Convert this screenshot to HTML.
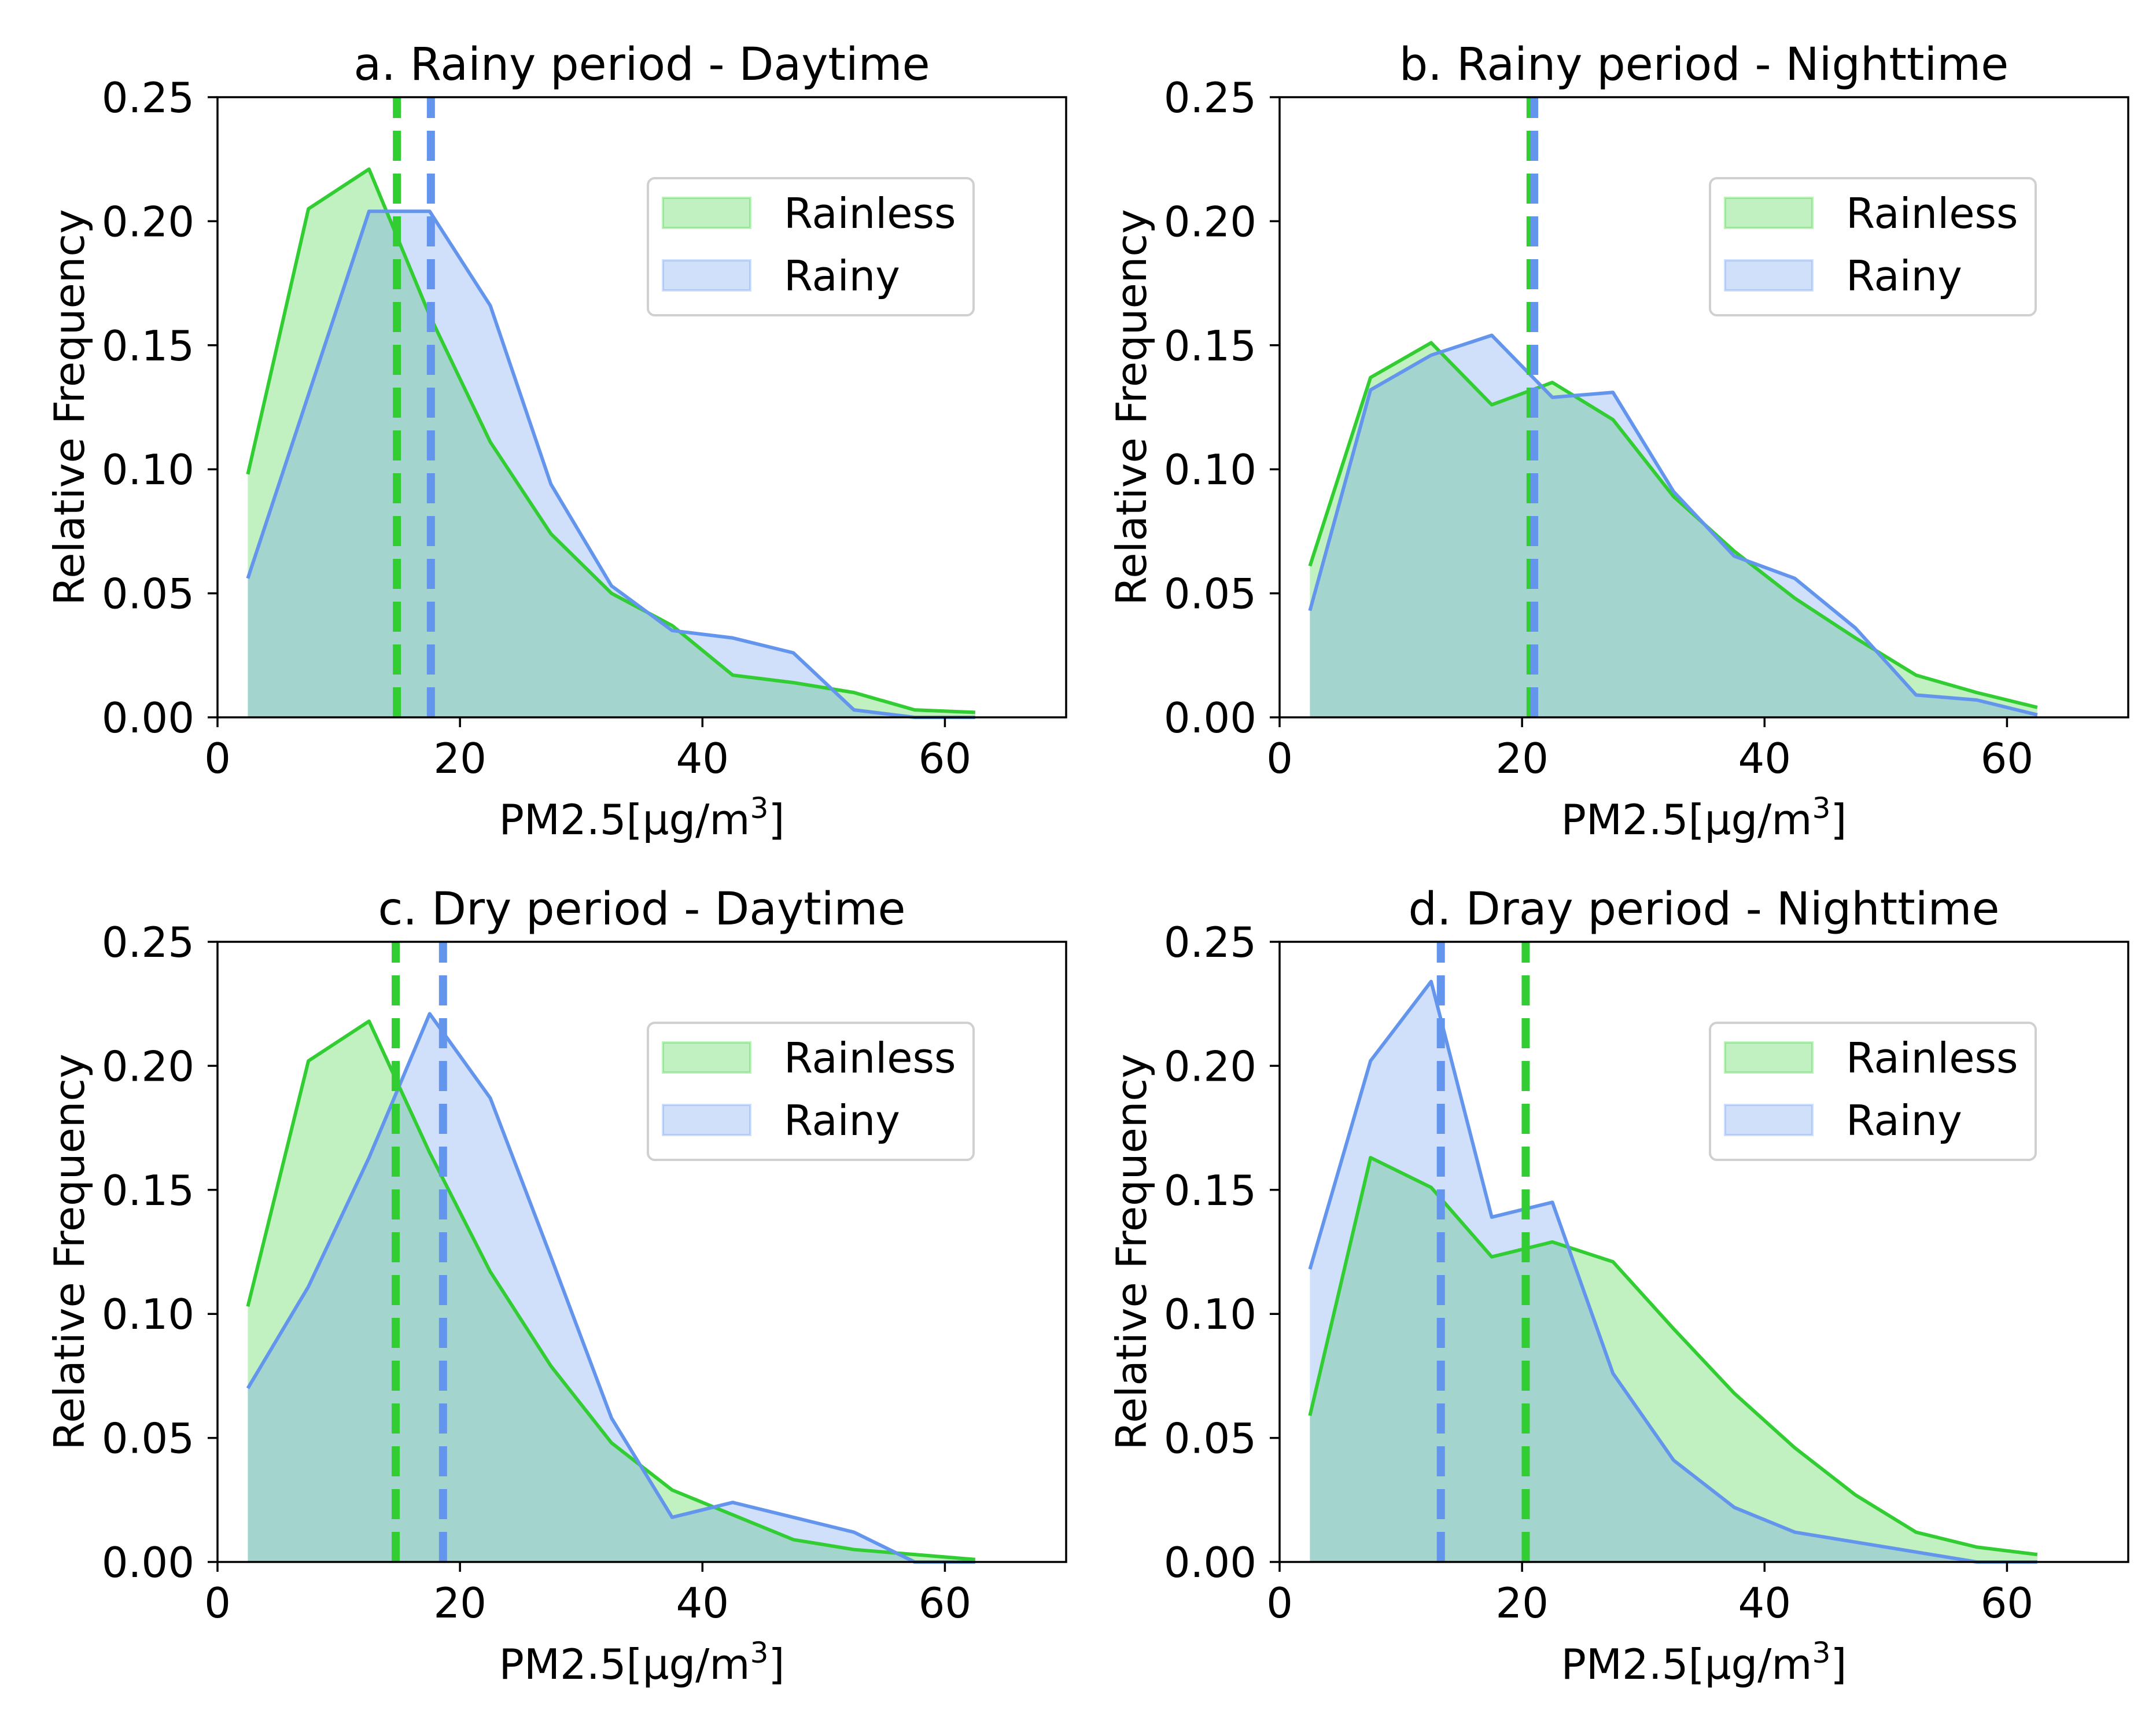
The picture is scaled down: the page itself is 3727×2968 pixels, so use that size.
<!DOCTYPE html>
<html><head><meta charset="utf-8"><style>
html,body{margin:0;padding:0;background:#fff;}
svg{display:block;font-family:"DejaVu Sans","Liberation Sans",sans-serif;}
</style></head><body>
<svg id="fig" width="3727" height="2968" viewBox="0 0 3727 2968" xmlns="http://www.w3.org/2000/svg"></svg>
<script>
const bins = [2.5,7.5,12.5,17.5,22.5,27.5,32.5,37.5,42.5,47.5,52.5,57.5,62.5];
const titles = ["a. Rainy period - Daytime","b. Rainy period - Nighttime","c. Dry period - Daytime","d. Dray period - Nighttime"];
const rainlessA = [0.098,0.205,0.221,0.162,0.111,0.074,0.050,0.037,0.017,0.014,0.010,0.003,0.002];
const rainyA    = [0.056,0.130,0.204,0.204,0.166,0.094,0.053,0.035,0.032,0.026,0.003,0.0,0.0];
const rainlessB = [0.061,0.137,0.151,0.126,0.135,0.120,0.089,0.067,0.048,0.032,0.017,0.010,0.004];
const rainyB    = [0.043,0.132,0.146,0.154,0.129,0.131,0.091,0.065,0.056,0.036,0.009,0.007,0.001];
const rainlessC = [0.103,0.202,0.218,0.165,0.117,0.079,0.048,0.029,0.019,0.009,0.005,0.003,0.001];
const rainyC    = [0.070,0.111,0.163,0.221,0.187,0.123,0.058,0.018,0.024,0.018,0.012,0.0,0.0];
const rainlessD = [0.059,0.163,0.151,0.123,0.129,0.121,0.094,0.068,0.046,0.027,0.012,0.006,0.003];
const rainyD    = [0.118,0.202,0.234,0.139,0.145,0.076,0.041,0.022,0.012,0.008,0.004,0.0,0.0];
const meanRainless = [14.8,20.7,14.7,20.3];
const meanRainy    = [17.6,21.0,18.6,13.3];
const xTicks = [0,20,40,60];
const yTicks = [0,0.05,0.10,0.15,0.20,0.25];
const yTickLabels = ["0.00","0.05","0.10","0.15","0.20","0.25"];

const rainlessAll = [rainlessA,rainlessB,rainlessC,rainlessD];
const rainyAll = [rainyA,rainyB,rainyC,rainyD];
const NS = "http://www.w3.org/2000/svg";
const fig = document.getElementById('fig');
const G = '#32cd32', B = '#6495ed';
function mk(tag, attrs, parent){const e=document.createElementNS(NS,tag);for(const k in attrs)e.setAttribute(k,attrs[k]);(parent||fig).appendChild(e);return e;}
const colX=[376,2212], rowY=[168,1628], W=1467, H=1072, XMAX=70, YMAX=0.25;
for(let p=0;p<4;p++){
  const x0=colX[p%2], y0=rowY[Math.floor(p/2)];
  const sx=v=>x0+v/XMAX*W, sy=v=>y0+H-v/YMAX*H;
  const g=mk('g',{});
  
  
  const series=[[rainlessAll[p],G,'rainless'],[rainyAll[p],B,'rainy']];
  series.forEach(([vals,col,nm])=>{
    let d='M'+sx(bins[0])+','+sy(0);
    vals.forEach((v,i)=>{d+=' L'+sx(bins[i])+','+sy(v);});
    d+=' L'+sx(bins[bins.length-1])+','+sy(0)+' Z';
    const a=mk('path',{d:d,fill:col,'fill-opacity':0.3,stroke:'none'},g);
    
    
  });
  series.forEach(([vals,col,nm])=>{
    const pts=vals.map((v,i)=>sx(bins[i])+','+sy(v)).join(' ');
    const l=mk('polyline',{points:pts,fill:'none',stroke:col,'stroke-width':6,'stroke-linejoin':'round'},g);
    
    
  });
  [[meanRainless[p],G,'rainless'],[meanRainy[p],B,'rainy']].forEach(([m,col,nm])=>{
    const l=mk('line',{x1:sx(m),x2:sx(m),y1:sy(0),y2:sy(YMAX),stroke:col,'stroke-width':14,'stroke-dasharray':'52 22'},g);
    
    
  });
  const fr=mk('rect',{x:x0,y:y0,width:W,height:H,fill:'none',stroke:'#000','stroke-width':3.5},g);
  
  
  xTicks.forEach(t=>{
    mk('line',{x1:sx(t),x2:sx(t),y1:y0+H,y2:y0+H+17,stroke:'#000','stroke-width':3.5},g);
    const tx=mk('text',{x:sx(t),y:y0+H+96,'font-size':72,'text-anchor':'middle'},g);
    tx.textContent=t;
    
    
  });
  yTicks.forEach((t,i)=>{
    mk('line',{x1:x0-17,x2:x0,y1:sy(t),y2:sy(t),stroke:'#000','stroke-width':3.5},g);
    const tx=mk('text',{x:x0-40,y:sy(t)+26,'font-size':72,'text-anchor':'end'},g);
    tx.textContent=yTickLabels[i];
    
    
  });
  const ti=mk('text',{x:x0+W/2,y:y0-30,'font-size':78,'text-anchor':'middle'},g);
  ti.textContent=titles[p];
  
  
  const xl=mk('text',{x:x0+W/2,y:y0+H+202,'font-size':72,'text-anchor':'middle'},g);
  xl.innerHTML='PM2.5[μg/m<tspan dy="-28" font-size="50">3</tspan><tspan dy="28">]</tspan>';
  
  
  const yl=mk('text',{x:0,y:0,'font-size':72,'text-anchor':'middle',transform:'translate('+(x0-231)+','+(y0+H/2)+') rotate(-90)'},g);
  yl.textContent='Relative Frequency';
  
  
  const lg=mk('g',{},g);
  
  
  const lx=x0+744, ly=y0+140;
  mk('rect',{x:lx,y:ly,width:563,height:237,rx:12,fill:'#fff','fill-opacity':0.8,stroke:'#d0d0d0','stroke-width':4},lg);
  [['Rainless',G,0],['Rainy',B,108]].forEach(([nm,col,dy])=>{
    const pr=mk('rect',{x:lx+26,y:ly+34+dy,width:151,height:52,fill:col,'fill-opacity':0.3,stroke:col,'stroke-opacity':0.3,'stroke-width':4},lg);
    
    
    const t=mk('text',{x:lx+235,y:ly+86+dy,'font-size':72},lg);
    t.textContent=nm;
    
    
  });
}
</script>
</body></html>
